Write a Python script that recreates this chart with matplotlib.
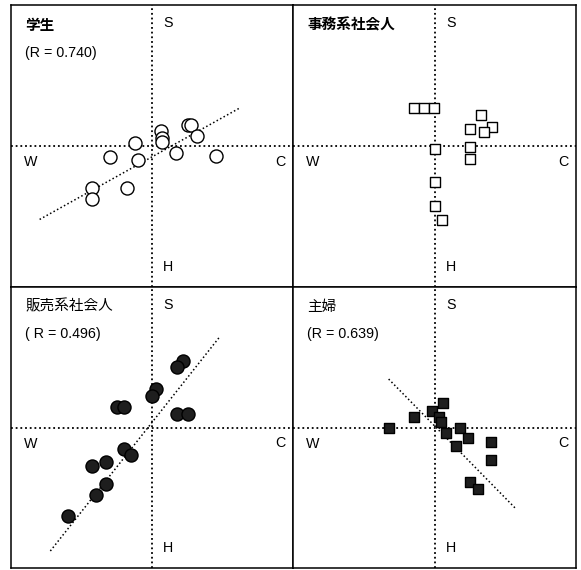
import matplotlib
matplotlib.use("Agg")
import matplotlib.pyplot as plt
import numpy as np

# Group names and correlation labels
titles = ["学生", "事務系社会人", "販売系社会人", "主婦"]
r_labels = ["(R = 0.740)", None, "( R = 0.496)", "(R = 0.639)"]

# Student scores (W–C horizontal axis, H–S vertical axis)
student_x = [-4.26, -4.26, -1.77, -3.00, -1.23, -0.99, 0.67, 0.71, 0.71, 1.73, 2.55, 2.79, 3.22, 4.52]
student_y = [-3.00, -3.74, -3.00, -0.76, 0.24, -1.02, 1.04, 0.54, 0.30, -0.50, 1.51, 1.51, 0.73, -0.74]

# Office workers
office_x = [-1.48, -0.74, -0.01, 3.30, 4.06, 2.52, 3.53, 2.52, 2.52, 0.04, 0.05, 0.05, 0.52]
office_y = [2.66, 2.66, 2.66, 2.18, 1.36, 1.24, 0.98, -0.06, -0.95, -0.18, -2.53, -4.26, -5.25]

# Sales workers
sales_x = [2.17, 1.75, 0.26, 0.00, -2.48, -2.01, 1.80, 2.55, -2.01, -1.47, -4.23, -3.24, -3.24, -3.95, -5.96]
sales_y = [4.75, 4.28, 2.72, 2.25, 1.49, 1.49, 0.97, 0.97, -1.54, -1.94, -2.77, -2.46, -4.00, -4.78, -6.31]

# Housewives
house_x = [-3.23, -1.45, -0.18, 0.60, 0.32, 0.46, 0.82, 1.81, 2.38, 1.52, 4.00, 4.00, 2.52, 3.09]
house_y = [-0.04, 0.74, 1.17, 1.74, 0.74, 0.39, -0.39, -0.04, -0.74, -1.31, -1.03, -2.30, -3.90, -4.40]

# Regression lines: (slope, intercept, x_start, x_end)
fit_lines = [(0.557, -0.77, -7.97, 6.26), None, (1.269, 0.36, -7.21, 4.80), (-1.027, 0.12, -3.24, 5.74)]

xs = [student_x, office_x, sales_x, house_x]
ys = [student_y, office_y, sales_y, house_y]
markers = ["o", "s", "o", "s"]
sizes = [9.4, 7.8, 9.4, 7.2]
faces = ["white", "white", "#1e1e1e", "#1e1e1e"]

W, H = 581, 570
fig = plt.figure(figsize=(W / 100, H / 100), dpi=100)

# panel boxes in pixels: left, top, right, bottom
boxes = [(11, 5, 293, 287), (293, 5, 576, 287), (11, 287, 293, 568), (293, 287, 576, 568)]

latin = ["Liberation Sans", "DejaVu Sans"]
cjk = ["Noto Sans CJK JP", "DejaVu Sans"]
dot = (0, (1.0, 1.6))
fs = 10.3

for i, (l, t, r, b) in enumerate(boxes):
    ax = fig.add_axes([l / W, 1 - b / H, (r - l) / W, (b - t) / H])
    ax.set_xlim(-10, 10)
    ax.set_ylim(-10, 10)
    ax.set_xticks([])
    ax.set_yticks([])
    for sp in ax.spines.values():
        sp.set_linewidth(1.1)
        sp.set_color("black")

    ax.axhline(0, color="black", lw=1.3, ls=dot, zorder=1)
    ax.axvline(0, color="black", lw=1.3, ls=dot, zorder=1)

    fl = fit_lines[i]
    if fl is not None:
        m, c, x0, x1 = fl
        lx = np.array([x0, x1])
        ax.plot(lx, m * lx + c, color="black", lw=1.1, ls=dot, zorder=2)

    ax.scatter(xs[i], ys[i], s=sizes[i] ** 2, marker=markers[i],
               facecolors=faces[i], edgecolors="black", linewidths=1.0, zorder=3)

    # quadrant pole labels
    ax.text(1.15, 8.7, "S", family=latin, fontsize=fs, ha="center", va="center")
    ax.text(1.15, -8.6, "H", family=latin, fontsize=fs, ha="center", va="center")
    ax.text(-8.6, -1.15, "W", family=latin, fontsize=fs, ha="center", va="center")
    ax.text(9.1, -1.1, "C", family=latin, fontsize=fs, ha="center", va="center")

    weight = "bold" if i < 2 else "normal"
    ax.text(-9.0, 8.6, titles[i], family=cjk, fontsize=10.5, fontweight=weight,
            ha="left", va="center")
    if r_labels[i]:
        ax.text(-9.0, 6.62, r_labels[i], family=latin, fontsize=fs,
                ha="left", va="center")

fig.savefig("out.png", dpi=100)
